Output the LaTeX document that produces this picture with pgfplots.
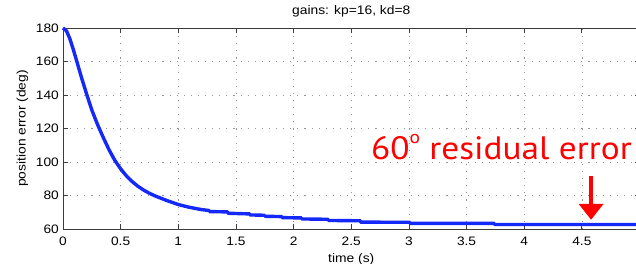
\documentclass[border=0pt]{standalone}
\usepackage{fontspec}
\setmainfont[FakeStretch=1.12]{Liberation Sans}
\newfontfamily\annfont[FakeStretch=1.09]{PT Sans}
\usepackage{pgfplots}
\pgfplotsset{compat=1.18}
\usetikzlibrary{arrows.meta}
\definecolor{curveblue}{RGB}{20,40,250}
\definecolor{axgray}{RGB}{60,60,60}
\definecolor{gridgray}{RGB}{150,150,150}
\begin{document}
\begin{tikzpicture}
\begin{axis}[
  scale only axis,
  width=576.5bp, height=201bp,
  xmin=0, xmax=5, ymin=60, ymax=180,
  xtick={0,0.5,...,4.5},
  ytick={60,80,...,180},
  /pgf/number format/assume math mode=true,
  ticklabel style={font=\fontsize{12.3}{14}\selectfont, color=black},
  xticklabel style={anchor=base, inner sep=0pt, yshift=-16bp},
  yticklabel style={anchor=east, inner sep=0pt, xshift=-4bp},
  xticklabels={0,0.5,1,1.5,2,2.5,3,3.5,4,4.5},
  tick align=inside,
  major tick length=5bp,
  tick style={axgray, line width=0.8bp},
  axis line style={axgray, line width=0.8bp},
  grid=major,
  major grid style={gridgray, line width=0.7bp, dash pattern=on 1.1bp off 6bp},
  title={gains: kp=16, kd=8},
  title style={at={(axis description cs:0.5,1)}, anchor=base, inner sep=0pt, yshift=7.3bp, font=\fontsize{12.4}{14}\selectfont},
  xlabel={time (s)},
  ylabel={position error (deg)},
  xlabel style={at={(axis description cs:0.5,0)}, anchor=base, inner sep=0pt, yshift=-33bp, font=\fontsize{12.4}{14}\selectfont},
  every axis y label/.style={at={(axis description cs:-0.0703,0.5)}, rotate=90, anchor=center, inner sep=0pt, font=\fontsize{12.4}{14}\selectfont},
  clip=false,
]
\addplot[curveblue, line width=3.4bp, line join=round] coordinates {
(0,180) (0.03,178.3) (0.06,173.5) (0.09,167) (0.12,160) (0.16,150.5) (0.205,140.5)
(0.25,131.0) (0.3,122.3) (0.35,114.5) (0.40,107.2) (0.45,100.9) (0.50,95.9)
(0.55,91.7) (0.6,88.3) (0.65,85.5) (0.7,83.2) (0.75,81.3) (0.8,79.7) (0.9,77.0)
(1.0,74.6) (1.1,72.9) (1.2,71.6) (1.27,71.0)
(1.27,70.4) (1.43,70.2) (1.43,69.4) (1.62,69.0) (1.62,68.4) (1.75,68.2)
(1.75,67.6) (1.90,67.4) (1.90,66.8) (2.07,66.6) (2.07,66.0) (2.30,65.8)
(2.30,65.1) (2.58,64.9) (2.58,64.1) (3.01,64.0) (3.01,63.4) (3.74,63.4)
(3.74,62.7) (5,62.7)
};
\draw[red, line width=4.5bp, -{Triangle[width=24bp,length=16bp]}] (axis cs:4.58,91.5) -- (axis cs:4.58,65.5);
\node[anchor=base west, red, inner sep=0pt, font=\annfont\fontsize{32.5}{36}\selectfont] at (axis cs:2.67,101.6) {60\raisebox{0.5em}{\fontsize{18}{18}\selectfont o} residual error};
\end{axis}
\pgfresetboundingbox
\path[use as bounding box] (-63bp,-35bp) rectangle (573bp,229bp);
\end{tikzpicture}
\end{document}
